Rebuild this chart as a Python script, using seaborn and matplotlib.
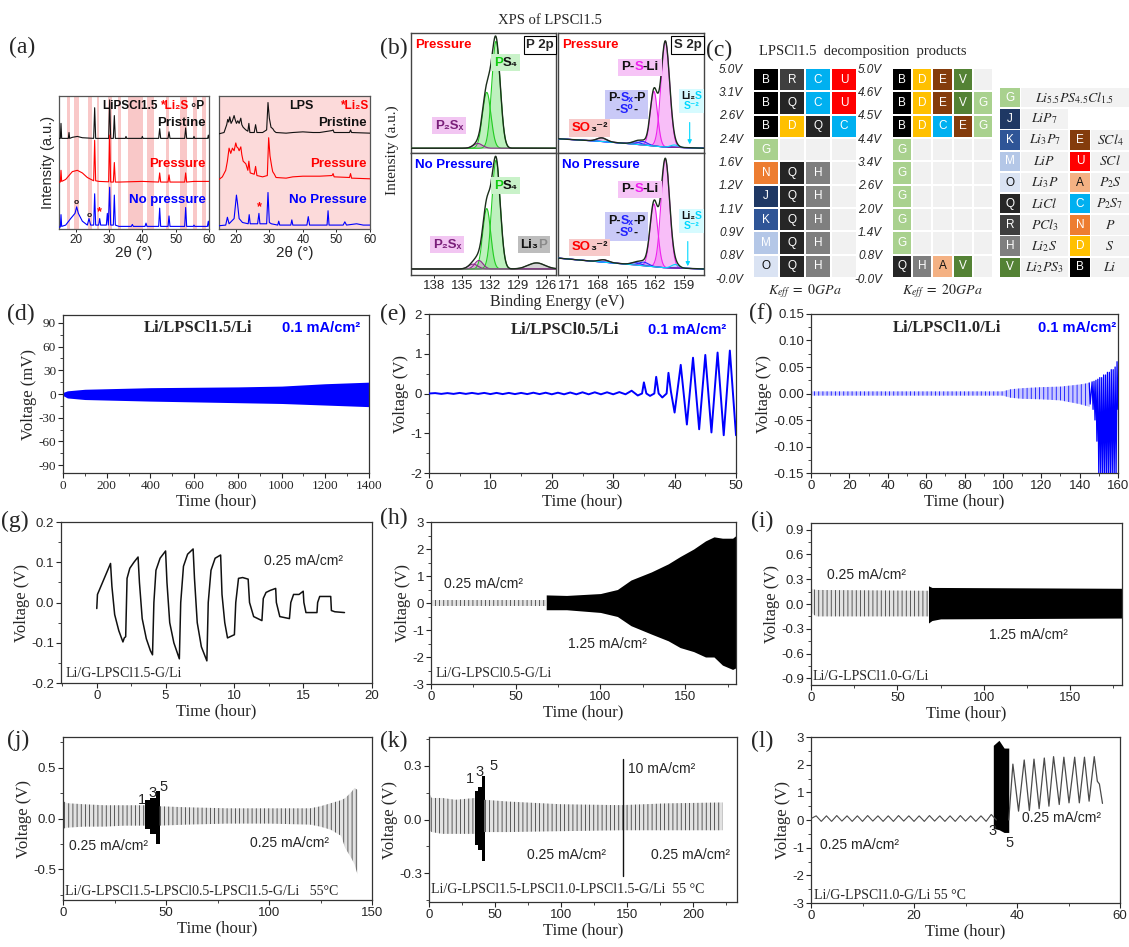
import numpy as np
import matplotlib
matplotlib.use("Agg")
import matplotlib.pyplot as plt
import seaborn as sns
from matplotlib.colors import ListedColormap
from matplotlib.ticker import AutoMinorLocator
from matplotlib.patches import Rectangle
from matplotlib.transforms import IdentityTransform

# ====================== DATA ======================
# (a) XRD traces: 2theta and offset intensity (0-100 axis units)
a1_pristine_x = [15, 15.4, 15.6, 15.8, 17.8, 18.0, 18.2, 19.0, 20.5, 22.0, 25.4, 25.7, 26.0, 29.9, 30.2, 30.5, 31.3, 31.6, 31.9, 34.9, 35.1, 35.3, 39.8, 40.0, 40.2, 44.9, 45.2, 45.5, 47.7, 48.0, 48.3, 52.7, 53.0, 53.3, 55.3, 55.5, 55.7, 59.6, 59.8, 60]
a1_pristine_y = [69.5, 69.5, 81, 69.5, 69.5, 74, 69.5, 70.3, 71, 70, 69.5, 93, 69.5, 69.5, 99, 69.5, 69.5, 87, 69.5, 69.5, 71, 69.5, 69.5, 71, 69.5, 69.5, 77, 69.5, 69.5, 74.5, 69.5, 69.5, 77.5, 69.5, 69.5, 71, 69.5, 69.5, 72, 69.5]
a1_pressure_x = [15, 15.4, 15.6, 15.8, 17.0, 18.0, 19.0, 20.5, 22.0, 23.5, 25.0, 25.4, 25.7, 26.0, 27.0, 29.9, 30.2, 30.5, 31.3, 31.6, 31.9, 33.0, 40.0, 44.9, 45.2, 45.5, 47.7, 48.0, 48.3, 52.7, 53.0, 53.3, 55.5, 60]
a1_pressure_y = [36, 36, 45, 36.5, 38, 41, 44, 45, 43, 39.5, 37.5, 37, 68, 37, 36.5, 36.2, 72, 36, 36, 51, 36, 36, 36.5, 36, 43, 36, 36, 41.5, 36, 36, 43, 36, 36.5, 36.5]
a1_nopress_x = [15, 15.4, 15.6, 15.8, 17.0, 18.5, 19.8, 20.3, 20.8, 22.0, 23.5, 24.0, 24.5, 25.4, 25.7, 26.0, 26.9, 27.2, 27.5, 29.2, 29.5, 29.8, 30.2, 30.5, 31.3, 31.6, 31.9, 33.0, 36.7, 37.0, 37.3, 40.8, 41.1, 41.4, 44.9, 45.2, 45.5, 47.7, 48.0, 48.3, 52.7, 53.0, 53.3, 55.3, 55.5, 55.7, 59.5, 59.8, 60]
a1_nopress_y = [1.5, 1.5, 11, 2, 3, 8, 12, 17, 12, 6, 3, 8, 3, 3, 27, 3, 3, 8, 3, 3, 12, 3, 32, 3, 3, 26, 3, 2, 2, 3.5, 2, 2, 4.5, 2, 2, 16, 2, 2, 10, 2, 2, 16.5, 2, 2, 3, 2, 2, 6, 2]
a1_stripe_lo = [17.3, 19.5, 23.6, 26.3, 29.8, 32.6, 35.8, 41.4, 47.1, 51.4, 55.1, 57.9]
a1_stripe_hi = [18.3, 21.0, 25.0, 27.1, 30.8, 33.5, 40.3, 43.6, 48.1, 53.4, 56.4, 59.1]

a2_pristine_x = [15, 16.5, 17.3, 17.6, 17.9, 18.2, 18.6, 19.0, 19.5, 19.8, 20.2, 20.6, 21.0, 21.5, 21.8, 22.2, 23.0, 23.6, 23.9, 24.2, 25.5, 25.9, 26.3, 28.0, 29.2, 29.6, 30.0, 30.5, 31.0, 31.5, 32.0, 35.0, 37.0, 40.0, 43.0, 45.0, 48.7, 49.0, 49.3, 53.9, 54.2, 54.5, 60]
a2_pristine_y = [73, 74, 80, 84, 82, 86, 81, 83, 87, 84, 81, 83, 81, 85, 80, 78, 76, 75, 81, 74, 74, 80, 74, 74, 76, 97, 85, 78, 77, 75, 74, 73.5, 74, 74.5, 74, 74, 75.5, 76, 74, 74, 76, 74, 73.5]
a2_pressure_x = [15, 16, 17, 17.5, 18, 18.5, 19, 19.5, 20, 20.3, 20.7, 21, 21.5, 21.8, 22.2, 23, 23.6, 23.9, 24.3, 25.5, 25.9, 26.3, 28, 29.4, 29.8, 30.2, 30.7, 31, 31.5, 32, 35, 37, 40, 43, 45, 48.7, 49, 49.3, 53.9, 54.2, 54.5, 60]
a2_pressure_y = [38, 40, 45, 52, 62, 58, 62, 60, 66, 63, 62, 60, 63, 57, 52, 50, 45, 52, 43, 42, 48, 41, 40, 41, 70, 56, 48, 44, 42, 39.5, 39, 40, 40.5, 40.5, 40.5, 41, 42.5, 40, 39.5, 42.5, 39, 38.5]
a2_nopress_x = [15, 17, 17.5, 18, 19.5, 20.2, 20.5, 21, 22, 23.7, 24, 24.3, 26.5, 26.9, 27.2, 29.2, 29.6, 30.0, 30.6, 32.5, 32.8, 33.1, 36.4, 36.7, 37.0, 41.2, 41.6, 42.0, 47.2, 47.5, 47.8, 52, 52.5, 53, 56, 58, 60]
a2_nopress_y = [2.5, 3, 9, 4, 8, 26, 20, 8, 5, 4, 11, 4, 4, 12, 4, 4, 28, 5, 4, 3, 6, 3, 3, 7, 3, 3, 9.5, 3, 3, 14, 3, 3, 5.5, 3, 4, 3, 3]

# (b) XPS fitted peaks (center eV, height %, width eV, kind)
bP1_center = [131.35, 132.35, 133.3]
bP1_height = [90, 47, 4]
bP1_width = [0.45, 0.45, 0.5]
bP1_kind = ["g", "g", "p"]
bP1_base = 4.0
bP2_center = [131.35, 132.35, 133.2, 133.8, 127.0]
bP2_height = [90, 50, 7, 4, 5]
bP2_width = [0.45, 0.42, 0.45, 0.5, 0.9]
bP2_kind = ["g", "g", "p", "p", "k"]
bP2_base = 5.0
bS1_center = [160.95, 162.15, 163.3, 164.0, 167.6, 160.0]
bS1_height = [89, 46, 3, 2, 3, 2]
bS1_width = [0.45, 0.38, 0.5, 0.5, 0.5, 0.4]
bS1_kind = ["m", "m", "b", "b", "p", "c"]
bS1_base_x = [156.9, 161, 165, 168, 172.2]
bS1_base_y = [4, 5, 8, 10, 12]
bS2_center = [160.95, 162.15, 163.2, 164.0, 167.4, 159.9]
bS2_height = [90, 52, 3, 2, 2, 3]
bS2_width = [0.45, 0.4, 0.5, 0.5, 0.5, 0.4]
bS2_kind = ["m", "m", "b", "b", "p", "c"]
bS2_base_x = [156.9, 161, 165, 168, 172.2]
bS2_base_y = [5, 6, 9, 11, 14]

# (c) decomposition products
c1_rows = [["B", "R", "C", "U"], ["B", "Q", "C", "U"], ["B", "D", "Q", "C"], ["G", "", "", ""],
           ["N", "Q", "H", ""], ["J", "Q", "H", ""], ["K", "Q", "H", ""], ["M", "Q", "H", ""], ["O", "Q", "H", ""]]
c1_volts = ["5.0V", "3.1V", "2.6V", "2.4V", "1.6V", "1.2V", "1.1V", "0.9V", "0.8V", "-0.0V"]
c2_rows = [["B", "D", "E", "V", ""], ["B", "D", "E", "V", "G"], ["B", "D", "C", "E", "G"],
           ["G", "", "", "", ""], ["G", "", "", "", ""], ["G", "", "", "", ""], ["G", "", "", "", ""],
           ["G", "", "", "", ""], ["Q", "H", "A", "V", ""]]
c2_volts = ["5.0V", "4.6V", "4.5V", "4.4V", "3.4V", "2.6V", "2.0V", "1.4V", "0.8V", "-0.0V"]
leg_left_keys = ["G", "J", "K", "M", "O", "Q", "R", "H", "V"]
leg_left_labels = ["$Li_{5.5}PS_{4.5}Cl_{1.5}$", "$LiP_7$", "$Li_3P_7$", "$LiP$", "$Li_3P$", "$LiCl$", "$PCl_3$", "$Li_2S$", "$Li_2PS_3$"]
leg_right_keys = ["", "", "E", "U", "A", "C", "N", "D", "B"]
leg_right_labels = ["", "", "$SCl_4$", "$SCl$", "$P_2S$", "$P_2S_7$", "$P$", "$S$", "$Li$"]

# (d) envelope of dense cycling, mV
d_t = [0, 20, 100, 400, 800, 1000, 1200, 1400]
d_hi = [2, 4, 6, 8, 9, 10, 13, 15]
d_lo = [-2, -5, -7, -9, -11, -12, -14, -16]

# (e) turning points, V
e_t = list(range(33)) + [33, 34, 34.7, 35, 35.4, 36, 36.7, 37, 37.4, 38, 38.7, 39, 39.4, 40, 41, 42, 43, 44, 45, 46, 47, 48, 49, 50]
e_v = [0.0, 0.01, -0.01, 0.01, -0.01, 0.015, -0.01, 0.015, -0.01, 0.015,
       -0.015, 0.015, -0.015, 0.015, -0.015, 0.015, -0.015, 0.02, -0.015, 0.02,
       -0.02, 0.02, -0.02, 0.025, -0.02, 0.03, -0.02, 0.03, -0.02, 0.03,
       -0.02, 0.035, -0.02,
       0.07, -0.05, 0.0, 0.28, 0.0, -0.06, 0.0, 0.42, 0.0, -0.1, 0.0, 0.52, 0.05, -0.48,
       0.72, -0.78, 0.9, -0.9, 0.97, -0.98, 1.03, -1.05, 1.08, -1.05]

# (f)
f_env_t = [0, 100, 104, 110, 120, 130, 140, 145]
f_env_hi = [0.004, 0.004, 0.008, 0.01, 0.012, 0.013, 0.017, 0.02]
f_env_lo = [-0.004, -0.004, -0.008, -0.01, -0.011, -0.013, -0.02, -0.025]
f_tail_t = [145, 145.5, 146.5, 147, 147.5, 148, 148.5, 149, 149.5, 150, 150.5, 151, 151.5, 152, 152.5, 153, 153.5, 154, 154.5, 155, 155.5, 156, 156.5, 157, 157.5, 158, 158.5, 159, 159.5, 160]
f_tail_v = [0.02, -0.02, 0.022, -0.03, 0.023, -0.05, 0.025, -0.09, 0.027, -0.16, 0.03, -0.16, 0.03, -0.16, 0.035, -0.16, 0.035, -0.16, 0.04, -0.16, 0.04, -0.16, 0.045, -0.16, 0.045, -0.16, 0.05, -0.16, 0.06, -0.03]

# (g)
g_t = [0, 0.05, 1.0, 1.1, 1.3, 1.6, 1.9, 2.0, 2.1, 2.2, 2.4, 2.7, 3.0, 3.1, 3.3, 3.6, 3.9, 4.05, 4.15, 4.3, 4.6, 5.0, 5.1, 5.3, 5.6, 6.0, 6.1, 6.3, 6.6, 7.0, 7.1, 7.3, 7.6, 8.0, 8.1, 8.3, 8.6, 9.0, 9.1, 9.3, 9.5, 10.0, 10.1, 10.3, 10.6, 11.0, 11.1, 11.4, 12.0, 12.1, 12.3, 12.6, 13.0, 13.05, 13.3, 14.0, 14.1, 14.3, 14.7, 15.0, 15.05, 15.2, 16.0, 16.05, 16.2, 17.0, 17.05, 17.3, 18.0]
g_v = [-0.015, 0.02, 0.097, 0.04, -0.03, -0.07, -0.098, -0.088, -0.085, 0.06, 0.085, 0.1, 0.113, 0.05, -0.04, -0.09, -0.12, -0.13, 0.0, 0.08, 0.11, 0.128, 0.05, -0.05, -0.1, -0.14, 0.0, 0.09, 0.12, 0.133, 0.06, -0.05, -0.11, -0.145, 0.0, 0.08, 0.11, 0.118, 0.02, -0.05, -0.088, -0.08, 0.0, 0.06, 0.062, 0.058, 0.0, -0.035, -0.045, 0.01, 0.025, 0.03, 0.035, 0.0, -0.035, -0.04, 0.0, 0.02, 0.02, 0.028, 0.0, -0.025, -0.025, 0.0, 0.015, 0.015, -0.02, -0.023, -0.025]

# (h)
h_low_t = [0, 68]
h_low_hi = [0.1, 0.1]
h_low_lo = [-0.1, -0.1]
h_high_t = [68, 80, 100, 110, 118, 130, 140, 147, 155, 162, 167, 172, 178, 180]
h_high_hi = [0.3, 0.28, 0.35, 0.5, 0.85, 1.15, 1.45, 1.72, 2.0, 2.3, 2.45, 2.4, 2.4, 2.5]
h_high_lo = [-0.25, -0.25, -0.35, -0.5, -0.84, -1.15, -1.4, -1.65, -1.8, -2.0, -2.0, -2.3, -2.46, -2.4]

# (i)
i_low_t = [0, 1, 3, 68]
i_low_hi = [0.2, 0.18, 0.17, 0.16]
i_low_lo = [-0.08, -0.12, -0.15, -0.15]
i_high_t = [68, 70, 75, 180]
i_high_hi = [0.22, 0.2, 0.2, 0.19]
i_high_lo = [-0.23, -0.2, -0.18, -0.17]

# (j)
j_a_t = [0, 2, 10, 20, 30, 40]
j_a_hi = [0.17, 0.15, 0.14, 0.13, 0.13, 0.13]
j_a_lo = [-0.1, -0.09, -0.08, -0.08, -0.07, -0.07]
j_b_t = [40, 42, 45, 47]
j_b_hi = [0.18, 0.2, 0.27, 0.27]
j_b_lo = [-0.1, -0.15, -0.25, -0.25]
j_c_t = [47, 60, 80, 100, 120, 125, 130, 135, 137, 140, 141.5, 143]
j_c_hi = [0.12, 0.11, 0.1, 0.1, 0.1, 0.12, 0.15, 0.18, 0.2, 0.26, 0.3, 0.28]
j_c_lo = [-0.07, -0.06, -0.05, -0.05, -0.06, -0.08, -0.11, -0.17, -0.29, -0.39, -0.45, -0.55]

# (k)
k_a_t = [0, 2, 10, 20, 35]
k_a_hi = [0.15, 0.12, 0.12, 0.11, 0.12]
k_a_lo = [-0.06, -0.07, -0.08, -0.08, -0.08]
k_b_t = [35, 37, 40, 42]
k_b_hi = [0.16, 0.18, 0.24, 0.24]
k_b_lo = [-0.14, -0.17, -0.23, -0.23]
k_c_t = [42, 60, 100, 145, 180, 222]
k_c_hi = [0.11, 0.1, 0.085, 0.08, 0.09, 0.095]
k_c_lo = [-0.07, -0.07, -0.065, -0.06, -0.06, -0.06]
k_pulse_t = [146.5, 146.5]
k_pulse_v = [-0.317, 0.337]

# (l)
l_early_t = list(range(37))
l_early_v = [0.05, 0.15, -0.05, 0.15, -0.05, 0.16, -0.04, 0.15, -0.05, 0.15,
             -0.05, 0.16, -0.04, 0.15, -0.05, 0.15, -0.05, 0.16, -0.04, 0.15,
             -0.05, 0.15, -0.05, 0.16, -0.04, 0.15, -0.05, 0.15, -0.05, 0.16,
             -0.04, 0.15, -0.05, 0.15, -0.05, 0.2, 0.0]
l_block_t = [35.4, 36.5, 37.5, 38.4]
l_block_hi = [2.7, 2.88, 2.6, 2.6]
l_block_lo = [-0.3, -0.35, -0.45, -0.45]
l_wave_t = [38.4, 39.2, 40.3, 41.4, 42.4, 43.3, 44.3, 45.3, 46.2, 47.1, 48.2, 49.1, 50.1, 51.2, 52.1, 53.1, 54.0, 55.0, 55.6, 56.0, 56.6]
l_wave_v = [0.0, 2.02, 0.32, 2.17, 0.34, 2.2, 0.41, 2.24, 0.5, 2.29, 0.56, 2.27, 0.62, 2.27, 0.62, 2.27, 0.68, 2.29, 1.4, 1.3, 0.6]

# ====================== STYLE ======================
SERIF = ["Liberation Serif", "DejaVu Serif"]
SANS = ["Liberation Sans", "DejaVu Sans"]
sns.set_theme(style="ticks")
plt.rcParams["font.family"] = SANS
plt.rcParams["mathtext.fontset"] = "stix"
plt.rcParams["hatch.linewidth"] = 0.55
plt.rcParams["axes.linewidth"] = 0.9
plt.rcParams["axes.edgecolor"] = "#333333"

W, H = 1129, 947
fig = plt.figure(figsize=(W / 100, H / 100), dpi=100)
renderer = fig.canvas.get_renderer()


def add_ax(x0, y0, x1, y1):
    return fig.add_axes([x0 / W, 1 - y1 / H, (x1 - x0) / W, (y1 - y0) / H])


def ftext(px, py, s, **kw):
    return fig.text(px / W, 1 - py / H, s, **kw)


def line(ax, x, y, color, lw=1.0, z=3):
    sns.lineplot(x=x, y=y, ax=ax, color=color, lw=lw, sort=False, estimator=None, zorder=z)


def band(ax, t, lo, hi, color, face, hatch="||||", step=None, z=2):
    ax.fill_between(t, lo, hi, facecolor=face, edgecolor=color, hatch=hatch, linewidth=0, step=step, zorder=z)


def rich(ax, x, y, lines, fs=9, weight="bold", fc=None, family=SANS, transform=None, pad=0.2):
    """Multi-coloured label centred at (x, y); optional background box."""
    if transform is None:
        transform = ax.transData
    cx, cy = transform.transform((x, y))
    dims = []
    for ln in lines:
        s = "".join(p for p, _ in ln)
        tmp = fig.text(0, 0, s, fontsize=fs, weight=weight, family=family)
        e = tmp.get_window_extent(renderer)
        tmp.remove()
        dims.append((e.width, e.height))
    totw = max(w for w, _ in dims)
    toth = sum(h for _, h in dims)
    if fc:
        p = pad * fs * 100 / 72
        ax.add_artist(Rectangle((cx - totw / 2 - p, cy - toth / 2 - p), totw + 2 * p, toth + 2 * p,
                                transform=IdentityTransform(), fc=fc, ec="none", zorder=6))
    top = cy + toth / 2
    for (w, h), ln in zip(dims, lines):
        top -= h
        x0 = cx - w / 2
        prev = None
        for p_, c in ln:
            if prev is None:
                prev = ax.annotate(p_, xy=(x0, top), xycoords="figure pixels", ha="left", va="bottom",
                                   fontsize=fs, weight=weight, family=family, color=c, zorder=7)
            else:
                prev = ax.annotate(p_, xy=(1, 0), xycoords=prev, ha="left", va="bottom",
                                   fontsize=fs, weight=weight, family=family, color=c, zorder=7)


RED, BLUE, BLK = "#ff0000", "#0000ff", "#111111"

# ====================== (a) ======================
axA1 = add_ax(59, 96, 209, 229)
axA2 = add_ax(219, 96, 370, 229)
for lo_, hi_ in zip(a1_stripe_lo, a1_stripe_hi):
    axA1.axvspan(lo_, hi_, color="#f9c8c8", lw=0, zorder=0)
axA2.set_facecolor("#fcdada")
for ax, tr in ((axA1, [(a1_pristine_x, a1_pristine_y, BLK), (a1_pressure_x, a1_pressure_y, RED), (a1_nopress_x, a1_nopress_y, BLUE)]),
               (axA2, [(a2_pristine_x, a2_pristine_y, BLK), (a2_pressure_x, a2_pressure_y, RED), (a2_nopress_x, a2_nopress_y, BLUE)])):
    for x, y, c in tr:
        line(ax, x, y, c, lw=0.8)
    ax.set_xlim(15, 60)
    ax.set_ylim(0, 102)
    ax.set_yticks([])
    ax.set_xticks([20, 30, 40, 50, 60], ["20", "30", "40", "50", "60"], fontsize=8.5)
    ax.tick_params(axis="x", direction="out", length=2.5, width=0.7, pad=1)
    ax.set_xlabel("2θ (°)", fontsize=11, labelpad=0)
    for s in ax.spines.values():
        s.set_color("#555555")
axA1.set_ylabel("Intensity (a.u.)", fontsize=10.5, labelpad=3)
rich(axA1, 43.5, 94, [[("LiPSCl1.5 ", BLK), ("*Li₂S", RED), ("∘P", BLK)]], fs=8.5)
rich(axA2, 39.5, 94, [[("LPS", BLK)]], fs=9)
rich(axA2, 55.6, 94, [[("*Li₂S", RED)]], fs=8.5)
for ax, names in ((axA1, ["Pristine", "Pressure", "No pressure"]), (axA2, ["Pristine", "Pressure", "No Pressure"])):
    for nm, yy, c in zip(names, [81, 50, 22], [BLK, RED, BLUE]):
        ax.text(59, yy, nm, ha="right", va="center", fontsize=9.5, weight="bold", color=c, zorder=5)
axA1.text(20.3, 20.5, "o", ha="center", va="center", fontsize=6, weight="bold", color=BLK)
axA1.text(24.0, 10.5, "o", ha="center", va="center", fontsize=6, weight="bold", color=BLK)
axA1.text(27.2, 13, "*", ha="center", va="center", fontsize=9, weight="bold", color=RED)
axA2.text(27.0, 17, "*", ha="center", va="center", fontsize=9, weight="bold", color=RED)

# ====================== (b) ======================
FILL = {"g": "#6fe06f", "p": "#c080c0", "m": "#f070f0", "b": "#8080ff", "c": "#80f0ff", "k": "#a0a0a0"}
EDGE = {"g": "#22cc22", "p": "#8b2a8b", "m": "#ee22ee", "b": "#2a2aff", "c": "#00d8ff", "k": "#777777"}


def xps(ax, x, base, cs, hs, ws, ks):
    tot = np.array(base, dtype=float)
    for c, h, w, k in zip(cs, hs, ws, ks):
        comp = h * np.exp(-0.5 * ((x - c) / w) ** 2)
        ax.fill_between(x, base, base + comp, color=FILL[k], alpha=0.45, lw=0, zorder=2)
        line(ax, x, base + comp, EDGE[k], lw=0.8)
        tot = tot + comp
    line(ax, x, tot, "#1b2e1b", lw=1.0, z=4)


axBP1 = add_ax(411, 33, 556, 153)
axBP2 = add_ax(411, 153, 556, 275)
axBS1 = add_ax(558, 33, 704, 153)
axBS2 = add_ax(558, 153, 704, 275)
xP = np.linspace(124.9, 140.5, 600)
xS = np.linspace(156.9, 172.2, 600)
xps(axBP1, xP, np.full_like(xP, bP1_base), bP1_center, bP1_height, bP1_width, bP1_kind)
xps(axBP2, xP, np.full_like(xP, bP2_base), bP2_center, bP2_height, bP2_width, bP2_kind)
xps(axBS1, xS, np.interp(xS, bS1_base_x, bS1_base_y), bS1_center, bS1_height, bS1_width, bS1_kind)
xps(axBS2, xS, np.interp(xS, bS2_base_x, bS2_base_y), bS2_center, bS2_height, bS2_width, bS2_kind)
for ax, xl, top, ticks in ((axBP1, (140.5, 124.9), True, [138, 135, 132, 129, 126]),
                           (axBP2, (140.5, 124.9), False, [138, 135, 132, 129, 126]),
                           (axBS1, (172.2, 156.9), True, [171, 168, 165, 162, 159]),
                           (axBS2, (172.2, 156.9), False, [171, 168, 165, 162, 159])):
    ax.set_xlim(*xl)
    ax.set_ylim(0, 101)
    ax.set_yticks([])
    if top:
        ax.set_xticks([])
    else:
        ax.set_xticks(ticks, [str(t) for t in ticks], fontsize=9.5)
        ax.tick_params(axis="x", direction="out", length=2.5, width=0.7, pad=1)
    for s in ax.spines.values():
        s.set_color("#444444")
        s.set_linewidth(1.0)

for ax, lab in ((axBP1, "P 2p"), (axBS1, "S 2p")):
    ax.text(0.985, 0.9, lab, transform=ax.transAxes, ha="right", va="center", fontsize=9.5, weight="bold",
            bbox=dict(boxstyle="square,pad=0.2", fc="white", ec="black", lw=0.8), zorder=8)
for ax in (axBP1, axBS1):
    ax.text(0.03, 0.9, "Pressure", transform=ax.transAxes, ha="left", va="center", fontsize=9.5, weight="bold", color=RED)
for ax in (axBP2, axBS2):
    ax.text(0.03, 0.9, "No Pressure", transform=ax.transAxes, ha="left", va="center", fontsize=9.5, weight="bold", color=BLUE)

GRN, PUR, MAG = "#11cc11", "#7a1f7a", "#ee22ee"
rich(axBP1, 130.3, 76, [[("P", GRN), ("S₄", BLK)]], fs=9.5, fc="#c9f2c9")
rich(axBP1, 136.4, 23, [[("P₂Sₓ", PUR)]], fs=9.5, fc="#f2c6f2")
rich(axBP2, 130.3, 74, [[("P", GRN), ("S₄", BLK)]], fs=9.5, fc="#c9f2c9")
rich(axBP2, 136.6, 25, [[("P₂Sₓ", PUR)]], fs=9.5, fc="#f2c6f2")
rich(axBP2, 127.3, 25, [[("Li₃", BLK), ("P", "#8a8a8a")]], fs=9.5, fc="#bdbdbd")
for ax, yy in ((axBS1, (72, 41, 21, 44)), (axBS2, (71, 40, 23, 45))):
    rich(ax, 163.6, yy[0], [[("P-", BLK), ("S", MAG), ("-Li", BLK)]], fs=9.5, fc="#f6c4f6")
    rich(ax, 165.0, yy[1], [[("P-", BLK), ("Sₓ", "#2222ff"), ("-P", BLK)], [("-", BLK), ("S⁰", "#2222ff"), ("-", BLK)]],
         fs=9, fc="#c9c9f7")
    rich(ax, 168.9, yy[2], [[("SO", RED), ("₃⁻²", BLK)]], fs=9.5, fc="#f7c9c9")
    rich(ax, 158.2, yy[3], [[("Li₂", BLK), ("S", "#00d8ff")], [("S⁻²", "#00d8ff")]], fs=7.5, fc="#d6fbff")
axBS1.annotate("", xy=(158.4, 5), xytext=(158.4, 28),
               arrowprops=dict(arrowstyle="-|>", color="#00d8ff", lw=0.8, mutation_scale=6))
axBS2.annotate("", xy=(158.6, 5), xytext=(158.6, 30),
               arrowprops=dict(arrowstyle="-|>", color="#00d8ff", lw=0.8, mutation_scale=6))
ftext(550, 20, "XPS of LPSCl1.5", ha="center", va="center", fontsize=10.5, family=SERIF)
ftext(557, 302, "Binding Energy (eV)", ha="center", va="center", fontsize=11.5, family=SERIF)
ftext(392, 150, "Intensity (a.u.)", ha="center", va="center", rotation=90, fontsize=11, family=SERIF)

# ====================== (c) ======================
PAL_KEYS = ["", "B", "R", "C", "U", "Q", "D", "G", "N", "H", "J", "K", "M", "O", "E", "V", "A"]
PAL = {"": "#f1f1f1", "B": "#000000", "R": "#3f3f3f", "C": "#00b0f0", "U": "#ff0000", "Q": "#262626",
       "D": "#ffc000", "G": "#a9d18e", "N": "#ed7d31", "H": "#7f7f7f", "J": "#1f3864", "K": "#2f5597",
       "M": "#b4c7e7", "O": "#dae3f3", "E": "#843c0c", "V": "#548235", "A": "#f4b183"}
TXTC = {k: ("#111111" if k in ("O", "A") else "white") for k in PAL}
cmap = ListedColormap([PAL[k] for k in PAL_KEYS])


def grid(ax, rows, volts, xlabel):
    idx = np.array([[PAL_KEYS.index(c) for c in r] for r in rows])
    sns.heatmap(idx, ax=ax, cmap=cmap, vmin=-0.5, vmax=len(PAL_KEYS) - 0.5, cbar=False,
                linewidths=1.3, linecolor="white", xticklabels=False, yticklabels=False)
    for i, r in enumerate(rows):
        for j, c in enumerate(r):
            if c:
                ax.text(j + 0.5, i + 0.5, c, ha="center", va="center", color=TXTC[c], fontsize=8.5)
    ax.set_yticks(np.arange(len(volts)), volts, fontsize=8.5, style="italic")
    ax.tick_params(axis="y", left=False, pad=1, labelrotation=0)
    ax.set_xlabel(xlabel, fontsize=10, labelpad=3)


axC1 = add_ax(753, 68, 857, 278)
axC2 = add_ax(892, 68, 993, 278)
grid(axC1, c1_rows, c1_volts, "$K_{eff}\\ =\\ 0GPa$")
grid(axC2, c2_rows, c2_volts, "$K_{eff}\\ =\\ 20GPa$")
ftext(863, 51, "LPSCl1.5  decomposition  products", ha="center", va="center", fontsize=10.5, family=SERIF)

axL = add_ax(1000, 87, 1129, 278)
axL.set_xlim(0, 129)
axL.set_ylim(9, 0)
axL.axis("off")
for i, (k, lab) in enumerate(zip(leg_left_keys, leg_left_labels)):
    axL.add_patch(Rectangle((0, i + 0.04), 20, 0.92, color=PAL[k], lw=0))
    axL.text(10, i + 0.5, k, ha="center", va="center", color=TXTC[k], fontsize=8.5)
    wid = 108 if i == 0 else 47
    axL.add_patch(Rectangle((21, i + 0.04), wid, 0.92, color="#f2f2f2", lw=0))
    axL.text(21 + wid / 2, i + 0.5, lab, ha="center", va="center", fontsize=10)
for i, (k, lab) in enumerate(zip(leg_right_keys, leg_right_labels)):
    if not k:
        continue
    axL.add_patch(Rectangle((70, i + 0.04), 20, 0.92, color=PAL[k], lw=0))
    axL.text(80, i + 0.5, k, ha="center", va="center", color=TXTC[k], fontsize=8.5)
    axL.add_patch(Rectangle((91, i + 0.04), 38, 0.92, color="#f2f2f2", lw=0))
    axL.text(110, i + 0.5, lab, ha="center", va="center", fontsize=10)


# ====================== bottom voltage panels ======================
def vax(box, xlim, ylim, xt, yt, ylabel, fam=SANS, fmt="{:g}"):
    ax = add_ax(*box)
    return ax, (xlim, ylim, xt, yt, ylabel, fam, fmt)


def finish(ax, spec):
    xlim, ylim, xt, yt, ylabel, fam, fmt = spec
    ax.set_xlim(*xlim)
    ax.set_ylim(*ylim)
    ax.set_xticks(xt, [f"{v:g}" for v in xt], family=fam, fontsize=9.5)
    ax.set_yticks(yt, [fmt.format(v) for v in yt], family=fam, fontsize=9.5)
    ax.xaxis.set_minor_locator(AutoMinorLocator(2))
    ax.yaxis.set_minor_locator(AutoMinorLocator(2))
    ax.tick_params(which="major", direction="out", length=3.5, width=0.8, pad=1.5)
    ax.tick_params(which="minor", direction="out", length=2, width=0.6)
    ax.set_xlabel("Time (hour)", family=SERIF, fontsize=12, labelpad=1)
    ax.set_ylabel(ylabel, family=SERIF, fontsize=12, labelpad=1)


GREY = "#333333"
GFACE = "#e2e2e2"

# (d)
axD, sD = vax((63, 315, 369, 473), (0, 1400), (-100, 100), list(range(0, 1401, 200)), [-90, -60, -30, 0, 30, 60, 90], "Voltage (mV)", fam=SERIF)
band(axD, d_t, d_lo, d_hi, BLUE, BLUE, hatch=None)
finish(axD, sD)
axD.text(0.44, 0.915, "Li/LPSCl1.5/Li", transform=axD.transAxes, ha="center", va="center", fontsize=12, weight="bold", family=SERIF)
axD.text(0.845, 0.915, "0.1 mA/cm²", transform=axD.transAxes, ha="center", va="center", fontsize=10.5, weight="bold", color=BLUE)

# (e)
axE, sE = vax((429, 314, 736, 473), (0, 50), (-2, 2), [0, 10, 20, 30, 40, 50], [-2, -1, 0, 1, 2], "Voltage (V)")
line(axE, e_t, e_v, BLUE, lw=1.4)
finish(axE, sE)
axE.text(0.443, 0.9, "Li/LPSCl0.5/Li", transform=axE.transAxes, ha="center", va="center", fontsize=12, weight="bold", family=SERIF)
axE.text(0.84, 0.9, "0.1 mA/cm²", transform=axE.transAxes, ha="center", va="center", fontsize=10.5, weight="bold", color=BLUE)

# (f)
axF, sF = vax((811, 314, 1118, 473), (0, 160), (-0.15, 0.15), list(range(0, 161, 20)), [-0.15, -0.10, -0.05, 0.0, 0.05, 0.10, 0.15], "Voltage (V)", fmt="{:.2f}")
band(axF, f_env_t, f_env_lo, f_env_hi, BLUE, "#c8c8ff")
line(axF, f_tail_t, f_tail_v, BLUE, lw=0.9)
finish(axF, sF)
axF.text(0.443, 0.91, "Li/LPSCl1.0/Li", transform=axF.transAxes, ha="center", va="center", fontsize=12, weight="bold", family=SERIF)
axF.text(0.866, 0.91, "0.1 mA/cm²", transform=axF.transAxes, ha="center", va="center", fontsize=10.5, weight="bold", color=BLUE)

# (g)
axG, sG = vax((61, 522, 372, 683), (-2.6, 20), (-0.2, 0.2), [0, 5, 10, 15, 20], [-0.2, -0.1, 0.0, 0.1, 0.2], "Voltage (V)", fmt="{:.1f}")
line(axG, g_t, g_v, BLK, lw=1.1)
finish(axG, sG)
axG.text(15.0, 0.1025, "0.25 mA/cm²", ha="center", va="center", fontsize=10)
axG.text(-2.3, -0.177, "Li/G-LPSCl1.5-G/Li", ha="left", va="center", fontsize=10, family=SERIF)

# (h)
axHh, sH = vax((431, 522, 736, 684), (0, 180), (-3, 3), [0, 50, 100, 150], [-3, -2, -1, 0, 1, 2, 3], "Voltage (V)")
band(axHh, h_low_t, h_low_lo, h_low_hi, GREY, GFACE)
band(axHh, h_high_t, h_high_lo, h_high_hi, "black", "black", hatch=None)
finish(axHh, sH)
axHh.text(31, 0.72, "0.25 mA/cm²", ha="center", va="center", fontsize=10)
axHh.text(104, -1.52, "1.25 mA/cm²", ha="center", va="center", fontsize=10)
axHh.text(2.5, -2.6, "Li/G-LPSCl0.5-G/Li", ha="left", va="center", fontsize=10, family=SERIF)

# (i)
axI, sI = vax((811, 523, 1122, 685), (0, 180), (-0.98, 0.98), [0, 50, 100, 150], [-0.9, -0.6, -0.3, 0.0, 0.3, 0.6, 0.9], "Voltage (V)", fmt="{:.1f}")
band(axI, i_low_t, i_low_lo, i_low_hi, GREY, GFACE)
band(axI, i_high_t, i_high_lo, i_high_hi, "black", "black", hatch=None)
finish(axI, sI)
axI.text(32, 0.354, "0.25 mA/cm²", ha="center", va="center", fontsize=10)
axI.text(126, -0.375, "1.25 mA/cm²", ha="center", va="center", fontsize=10)
axI.text(1, -0.88, "Li/G-LPSCl1.0-G/Li", ha="left", va="center", fontsize=10, family=SERIF)

# (j)
axJ, sJ = vax((63, 737, 372, 900), (0, 150), (-0.8, 0.8), [0, 50, 100, 150], [-0.5, 0.0, 0.5], "Voltage (V)", fmt="{:.1f}")
band(axJ, j_a_t, j_a_lo, j_a_hi, GREY, GFACE)
band(axJ, j_b_t, j_b_lo, j_b_hi, "black", "black", hatch=None, step="post")
band(axJ, j_c_t, j_c_lo, j_c_hi, GREY, GFACE)
finish(axJ, sJ)
for s_, xx, yy in (("1", 38.2, 0.183), ("3", 43.6, 0.248), ("5", 48.8, 0.31)):
    axJ.text(xx, yy, s_, ha="center", va="center", fontsize=10.5)
axJ.text(22, -0.27, "0.25 mA/cm²", ha="center", va="center", fontsize=10)
axJ.text(110, -0.24, "0.25 mA/cm²", ha="center", va="center", fontsize=10)
axJ.text(1, -0.72, "Li/G-LPSCl1.5-LPSCl0.5-LPSCl1.5-G/Li   55°C", ha="left", va="center", fontsize=10, family=SERIF)

# (k)
axK, sK = vax((429, 737, 737, 902), (0, 233), (-0.46, 0.46), [0, 50, 100, 150, 200], [-0.3, 0.0, 0.3], "Voltage (V)", fmt="{:.1f}")
band(axK, k_a_t, k_a_lo, k_a_hi, GREY, GFACE)
band(axK, k_b_t, k_b_lo, k_b_hi, "black", "black", hatch=None, step="post")
band(axK, k_c_t, k_c_lo, k_c_hi, GREY, GFACE)
line(axK, k_pulse_t, k_pulse_v, BLK, lw=1.0)
finish(axK, sK)
for s_, xx, yy in (("1", 30.8, 0.227), ("3", 37.9, 0.263), ("5", 48.5, 0.30)):
    axK.text(xx, yy, s_, ha="center", va="center", fontsize=10.5)
axK.text(150.8, 0.28, "10 mA/cm²", ha="left", va="center", fontsize=10)
axK.text(104, -0.197, "0.25 mA/cm²", ha="center", va="center", fontsize=10)
axK.text(197.5, -0.197, "0.25 mA/cm²", ha="center", va="center", fontsize=10)
axK.text(1.8, -0.39, "Li/G-LPSCl1.5-LPSCl1.0-LPSCl1.5-G/Li  55 °C", ha="left", va="center", fontsize=10, family=SERIF)

# (l)
axLl, sL = vax((811, 737, 1120, 903), (0, 60), (-3, 3), [0, 20, 40, 60], [-3, -2, -1, 0, 1, 2, 3], "Voltage (V)")
line(axLl, l_early_t, l_early_v, "#4a4a4a", lw=0.8)
band(axLl, l_block_t, l_block_lo, l_block_hi, "black", "black", hatch=None)
line(axLl, l_wave_t, l_wave_v, "#4a4a4a", lw=0.9)
finish(axLl, sL)
axLl.text(35.2, -0.41, "3", ha="center", va="center", fontsize=10.5)
axLl.text(38.6, -0.84, "5", ha="center", va="center", fontsize=10.5)
axLl.text(48.6, 0.07, "0.25 mA/cm²", ha="center", va="center", fontsize=10)
axLl.text(9.4, -0.9, "0.25 mA/cm²", ha="center", va="center", fontsize=10)
axLl.text(0.5, -2.73, "Li/G-LPSCl1.0-G/Li 55 °C", ha="left", va="center", fontsize=10, family=SERIF)

# ====================== panel letters ======================
for lab, px, py in (("(a)", 22, 47), ("(b)", 394, 48), ("(c)", 719, 50), ("(d)", 21, 314), ("(e)", 393, 314),
                    ("(f)", 761, 313), ("(g)", 15, 521), ("(h)", 394, 518), ("(i)", 762, 521), ("(j)", 18, 740),
                    ("(k)", 394, 741), ("(l)", 762, 741)):
    ftext(px, py, lab, ha="center", va="center", fontsize=17, family=SERIF)

fig.savefig("out.png", dpi=100)
